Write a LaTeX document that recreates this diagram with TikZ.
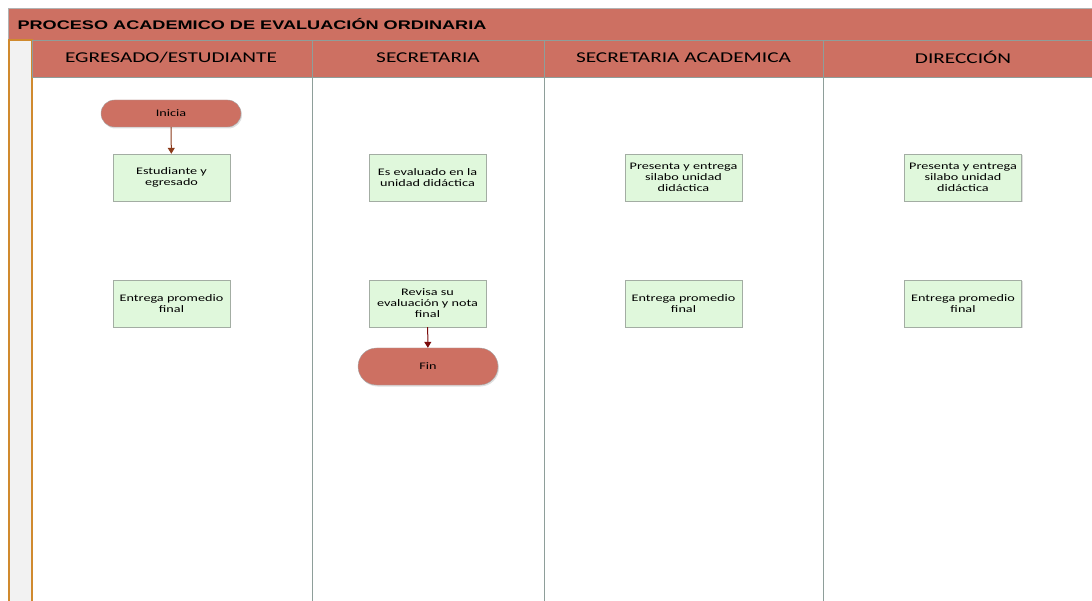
\documentclass[tikz,border=0pt]{standalone}
\usepackage{fontspec}
\setmainfont[FakeStretch=1.42]{Carlito}
\newfontfamily\titlefont[FakeStretch=1.45]{Liberation Sans}
\usetikzlibrary{shapes.misc,arrows.meta,shadows}

\definecolor{laneRed}{HTML}{CD7062}
\definecolor{boxGreen}{HTML}{E0F8DC}
\definecolor{boxEdge}{HTML}{A3ADA3}
\definecolor{laneEdge}{HTML}{8E9E9A}
\definecolor{stripOrange}{HTML}{D08A2E}
\definecolor{arrowBrown}{HTML}{8B3A1A}
\definecolor{arrowRed}{HTML}{7A0A0A}

\begin{document}
\begin{tikzpicture}[x=1pt, y=-1pt,
      every node/.style={font=\fontsize{10}{11}\selectfont},
      proc/.style={rectangle, draw=boxEdge, fill=boxGreen, minimum width=117pt,
                   minimum height=47pt, align=center, inner sep=0pt,
                   drop shadow={shadow xshift=1pt, shadow yshift=-1.5pt, opacity=0.25}},
      term/.style={rounded rectangle, draw=gray!70, fill=laneRed, minimum width=140pt,
                   minimum height=27pt, inner sep=0pt,
                   drop shadow={shadow xshift=1pt, shadow yshift=-1.5pt, opacity=0.25}},
      header/.style={draw=laneEdge, fill=laneRed},
      lanetitle/.style={font=\fontsize{15}{17}\selectfont},
      link/.style={-{Triangle[length=6pt, width=7pt]}, line width=1pt}]
  \useasboundingbox (0,0) rectangle (1092,601);

  % pool title
  \draw[draw=gray!60, fill=laneRed] (8,8) rectangle (1092,40);
  \node[anchor=west, font=\titlefont\bfseries\fontsize{12.5}{14}\selectfont] (pool) at (14,24)
    {PROCESO ACADEMICO DE EVALUACIÓN ORDINARIA};

  % left strip
  \draw[draw=stripOrange, line width=1.5pt, fill=gray!10] (8.75,40) rectangle (32,602);

  % lane headers and dividers
  \draw[header] (32,40) rectangle (312,77);
  \draw[header] (312,40) rectangle (544,77);
  \draw[header] (544,40) rectangle (823,77);
  \draw[header] (823,40) rectangle (1093,77);
  \foreach \x in {312,544,823}
    \draw[laneEdge, line width=1pt] (\x,77) -- (\x,602);

  \node[lanetitle] (laneA) at (171,57.5) {EGRESADO/ESTUDIANTE};
  \node[lanetitle] (laneB) at (428,57.5) {SECRETARIA};
  \node[lanetitle] (laneC) at (683.5,57.5) {SECRETARIA ACADEMICA};
  \node[lanetitle] (laneD) at (963,57.5) {DIRECCIÓN};

  % lane 1
  \node[term] (inicia) at (171,113.5) {Inicia};
  \node[proc] (estudiante) at (171.5,177.5) {Estudiante y\\egresado};
  \node[proc] (promedioA) at (171.5,303.5) {Entrega promedio\\final};

  % lane 2
  \node[proc] (evaluado) at (427.5,177.5) {Es evaluado en la\\unidad didáctica};
  \node[proc] (revisa) at (427.5,303.5) {Revisa su\\evaluación y nota\\final};
  \node[term, minimum height=37pt] (fin) at (428,366.5) {Fin};

  % lane 3
  \node[proc] (silaboC) at (683.5,177.5) {Presenta y entrega\\silabo unidad\\didáctica};
  \node[proc] (promedioC) at (683.5,303.5) {Entrega promedio\\final};

  % lane 4
  \node[proc] (silaboD) at (963,177.5) {Presenta y entrega\\silabo unidad\\didáctica};
  \node[proc] (promedioD) at (963,303.5) {Entrega promedio\\final};

  \draw[link, arrowBrown] (inicia) -- (estudiante);
  \draw[link, arrowRed] (revisa) -- (fin);
\end{tikzpicture}
\end{document}
